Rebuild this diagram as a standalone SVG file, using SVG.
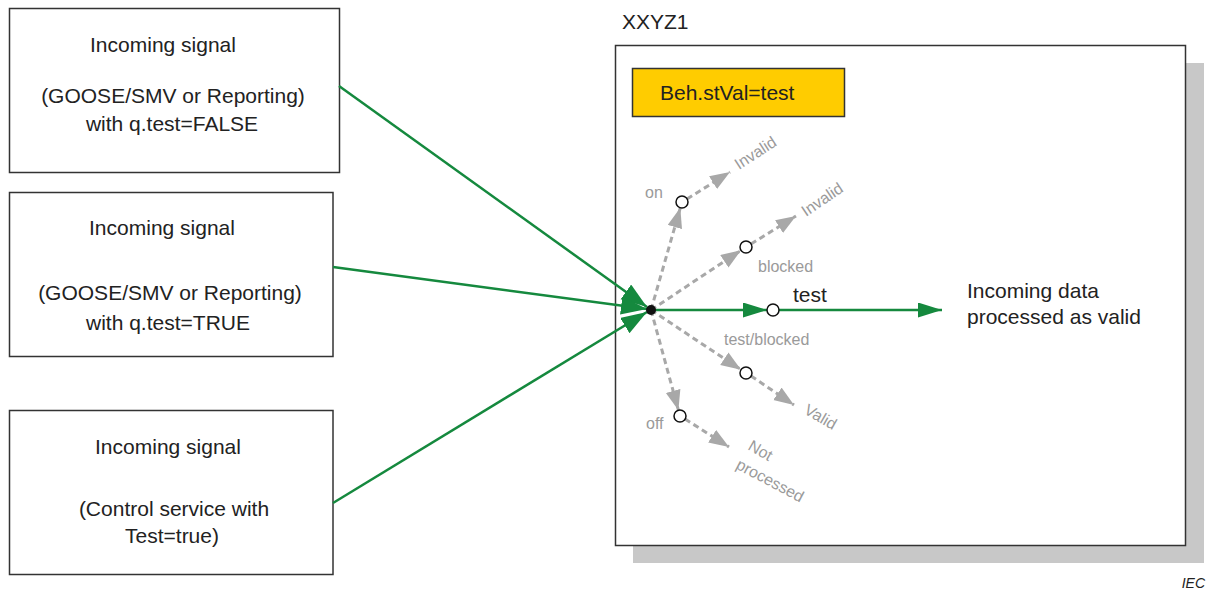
<svg xmlns="http://www.w3.org/2000/svg" width="1208" height="592" viewBox="0 0 1208 592">
<style>
.box{fill:#fff;stroke:#333;stroke-width:1.5}
.t{font-family:"Liberation Sans",Arial,sans-serif;font-size:21px;fill:#222}
.tc{text-anchor:middle}
.g{font-family:"Liberation Sans",Arial,sans-serif;font-size:16px;fill:#9a9a9a}
.gl{stroke:#15893E;stroke-width:2.5;fill:none}
.dl{stroke:#A8A8A8;stroke-width:3;stroke-dasharray:6 4;fill:none}
.c{fill:#fff;stroke:#111;stroke-width:1.5}
</style>
<defs>
<marker id="ag" markerUnits="userSpaceOnUse" markerWidth="26" markerHeight="16" refX="24" refY="7.5" orient="auto" viewBox="0 0 26 16"><path d="M0,0 L24,7.5 L0,15 z" fill="#15893E"/></marker>
<marker id="agb" markerUnits="userSpaceOnUse" markerWidth="28" markerHeight="20" refX="26" refY="9" orient="auto" viewBox="0 0 28 20"><path d="M0,0 L26,9 L0,18 z" fill="#15893E"/></marker>
<marker id="ay" markerUnits="userSpaceOnUse" markerWidth="22" markerHeight="16" refX="20" refY="7.5" orient="auto" viewBox="0 0 22 16"><path d="M0,0 L20,7.5 L0,15 z" fill="#A8A8A8"/></marker>
</defs>

<g id="n1">
<rect class="box" x="9.5" y="8.5" width="330" height="164"/>
<text class="t tc" x="163" y="52">Incoming signal</text>
<text class="t tc" x="173" y="103">(GOOSE/SMV or Reporting)</text>
<text class="t tc" x="172" y="131">with q.test=FALSE</text>
</g>
<g id="n2">
<rect class="box" x="9.5" y="192.5" width="323.5" height="164"/>
<text class="t tc" x="162" y="235">Incoming signal</text>
<text class="t tc" x="170" y="300">(GOOSE/SMV or Reporting)</text>
<text class="t tc" x="168" y="330">with q.test=TRUE</text>
</g>
<g id="n3">
<rect class="box" x="9.5" y="410.5" width="323.5" height="164"/>
<text class="t tc" x="168" y="454">Incoming signal</text>
<text class="t tc" x="174" y="516">(Control service with</text>
<text class="t tc" x="172" y="543">Test=true)</text>
</g>

<g id="xxyz1">
<rect x="633" y="63" width="571" height="500" fill="#C8C8C8"/>
<rect class="box" x="615.5" y="45.5" width="570" height="500"/>
<text class="t" x="622" y="29">XXYZ1</text>
</g>
<g id="beh">
<rect x="632.5" y="68.5" width="212" height="48" fill="#FFCC00" stroke="#333" stroke-width="1.5"/>
<text class="t" x="660" y="100">Beh.stVal=test</text>
</g>

<g id="connectors">
<line class="gl" x1="339" y1="86" x2="647" y2="307" marker-end="url(#agb)"/>
<line class="gl" x1="333" y1="267" x2="647" y2="309" marker-end="url(#agb)"/>
<line class="gl" x1="333" y1="503" x2="647" y2="312" marker-end="url(#agb)"/>
<line class="gl" x1="651" y1="310" x2="767" y2="310" marker-end="url(#ag)"/>
<line class="gl" x1="779" y1="310" x2="942" y2="310" marker-end="url(#ag)"/>

<line class="dl" x1="651" y1="310" x2="680.3" y2="207.8" marker-end="url(#ay)"/>
<line class="dl" x1="687" y1="199" x2="730" y2="172" marker-end="url(#ay)"/>
<line class="dl" x1="651" y1="310" x2="741" y2="250.3" marker-end="url(#ay)"/>
<line class="dl" x1="751" y1="244" x2="796" y2="216" marker-end="url(#ay)"/>
<line class="dl" x1="651" y1="310" x2="741" y2="369.7" marker-end="url(#ay)"/>
<line class="dl" x1="751" y1="376" x2="794" y2="405" marker-end="url(#ay)"/>
<line class="dl" x1="651" y1="310" x2="678.4" y2="410.2" marker-end="url(#ay)"/>
<line class="dl" x1="685" y1="419" x2="729" y2="447" marker-end="url(#ay)"/>
<circle cx="651" cy="310" r="5" fill="#111"/>
</g>

<g id="states">
<circle class="c" cx="682" cy="202" r="6"/>
<circle class="c" cx="746" cy="247" r="6"/>
<circle class="c" cx="773" cy="310" r="6"/>
<circle class="c" cx="746" cy="373" r="6"/>
<circle class="c" cx="680" cy="416" r="6"/>
<text class="g" x="645" y="198">on</text>
<text class="g" x="758" y="272">blocked</text>
<text class="g" x="724" y="345">test/blocked</text>
<text class="g" x="646" y="429">off</text>
<text class="g" transform="translate(739,170) rotate(-33)">Invalid</text>
<text class="g" transform="translate(806,217) rotate(-34)">Invalid</text>
<text class="g" transform="translate(803,413) rotate(30)">Valid</text>
<text class="g" transform="translate(747,449) rotate(30)">Not</text>
<text class="g" transform="translate(735,468) rotate(28)">processed</text>
<text class="t" x="793" y="302">test</text>
<text class="t" x="967" y="298">Incoming data</text>
<text class="t" x="967" y="324">processed as valid</text>
</g>
<text x="1205" y="588" text-anchor="end" font-family="Liberation Sans,Arial,sans-serif" font-size="14" font-style="italic" fill="#222">IEC</text>
</svg>
